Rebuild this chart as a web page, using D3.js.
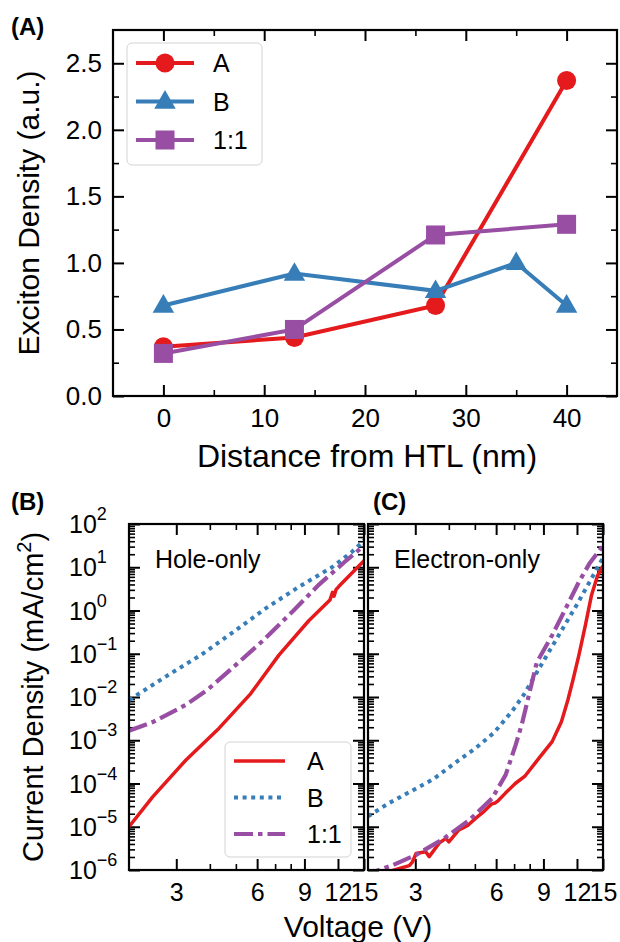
<!DOCTYPE html>
<html lang="en">
<head>
<meta charset="utf-8">
<title>Exciton density and J-V curves</title>
<script src="https://cdn.jsdelivr.net/npm/d3@7"></script>
<style>
    body { margin: 0; background: #fff; }
    svg text { font-family: "Liberation Sans", Arial, Helvetica, sans-serif; fill: #000; }
</style>
</head>
<body>
<div id="chart"></div>
<script>
    // ---------- panel (A): exciton density vs distance ----------
    const distA = [0, 13, 27, 40];
    const densA = [0.37, 0.44, 0.68, 2.37];
    const distB = [0, 13, 27, 35, 40];
    const densB = [0.68, 0.92, 0.79, 1.0, 0.68];
    const distMix = [0, 13, 27, 40];
    const densMix = [0.32, 0.5, 1.21, 1.29];
    const ticksDist = [0, 10, 20, 30, 40];
    const ticksDens = [0, 0.5, 1.0, 1.5, 2.0, 2.5];

    // ---------- panel (B): hole-only J-V (V, mA/cm2) ----------
    const holeV_A = [2.0, 2.45, 3.26, 4.33, 5.68, 7.23, 9.34, 11.2, 11.45, 11.6, 11.8, 12.1, 13.5, 15.0];
    const holeJ_A = [1.0e-5, 4.9e-5, 3.5e-4, 1.9e-3, 1.2e-2, 9.3e-2, 0.58, 1.74, 2.63, 2.14, 3.02, 3.63, 7.24, 14.1];
    const holeV_B = [2.0, 2.75, 3.7, 4.9, 6.5, 8.6, 11.4, 13.5, 15.0];
    const holeJ_B = [8.5e-3, 3.0e-2, 9.3e-2, 0.32, 1.15, 3.55, 10.0, 22.4, 41.7];
    const holeV_Mix = [2.0, 2.45, 3.26, 3.94, 4.8, 6.3, 8.2, 10.2, 12.7, 15.0];
    const holeJ_Mix = [1.66e-3, 2.63e-3, 6.6e-3, 1.51e-2, 4.4e-2, 0.20, 1.0, 3.98, 13.2, 31.6];

    // ---------- panel (C): electron-only J-V ----------
    const elecV_A = [2.2, 2.6, 2.85, 2.93, 3.02, 3.28, 3.38, 3.68, 3.9, 4.0, 4.36, 4.5, 4.7, 5.04, 5.4, 5.79, 5.95, 6.1, 6.5,
                     7.07, 7.7, 8.65, 9.7, 10.5, 11.1, 11.6, 12.2, 12.9, 13.6, 14.3, 15.0];
    const elecJ_A = [7.9e-7, 1.07e-6, 1.26e-6, 1.55e-6, 2.4e-6, 2.63e-6, 2.04e-6, 4.17e-6, 5.37e-6, 4.47e-6, 8.5e-6, 9.3e-6,
                     1.07e-5, 1.58e-5, 2.24e-5, 3.39e-5, 3.55e-5, 3.98e-5, 6.0e-5, 1.0e-4, 1.51e-4, 3.8e-4, 9.3e-4, 2.69e-3,
                     8.5e-3, 2.51e-2, 9.3e-2, 0.457, 2.29, 6.31, 10.7];
    const elecV_B = [2.0, 2.4, 2.85, 3.5, 4.36, 5.04, 5.9, 6.9, 7.6, 8.5, 10.0, 12.0, 15.0];
    const elecJ_B = [1.74e-5, 3.55e-5, 6.3e-5, 1.26e-4, 3.47e-4, 6.6e-4, 1.51e-3, 4.8e-3, 1.12e-2, 3.7e-2, 0.204, 1.38, 16.6];
    const elecV_Mix = [1.9, 2.15, 2.47, 3.02, 3.79, 4.76, 5.79, 6.51, 7.1, 7.5, 7.95, 8.5, 9.7, 10.8, 12.2, 13.4, 15.0];
    const elecJ_Mix = [7.1e-7, 9.5e-7, 1.29e-6, 2.24e-6, 5.1e-6, 1.41e-5, 4.5e-5, 1.58e-4, 7.9e-4, 2.51e-3, 1.12e-2,
                       6.3e-2, 0.269, 1.0, 4.57, 12.6, 31.6];

    const ticksVolt = [3, 6, 9, 12, 15];
    const minorVolt = [4, 5, 7, 8];
    const decades = [-6, -5, -4, -3, -2, -1, 0, 1, 2];
    const seriesNames = ["A", "B", "1:1"];

    const colors = {"A": "#e41a1c", "B": "#377eb8", "1:1": "#984ea3"};
    const zip = (a, b) => a.map((v, i) => [v, b[i]]);

    const svg = d3.select("#chart")
        .append("svg")
            .attr("width", 620)
            .attr("height", 942);

    // inward ticks on one side of a frame
    function tickSide(orient, scale, x0, y0, values, size, fmt, pad, fontSize) {
        const axisFn = {bottom: d3.axisBottom, top: d3.axisTop, left: d3.axisLeft, right: d3.axisRight}[orient];
        const g = svg.append("g")
            .attr("transform", "translate(" + x0 + "," + y0 + ")")
            .call(axisFn(scale).tickValues(values).tickSize(-size).tickPadding(pad || 0)
                .tickFormat(fmt || (() => "")));
        g.select(".domain").remove();
        g.attr("font-family", null).attr("font-size", fontSize || 10);
        g.selectAll("line").attr("stroke", "#000").attr("stroke-width", size > 8 ? 2 : 1.6);
        return g;
    }

    // ================= panel (A) =================
    const fa = {left: 113, right: 617, top: 30, bottom: 396};
    const x = d3.scaleLinear().domain([-5, 45]).range([fa.left, fa.right]);
    const y = d3.scaleLinear().domain([0, 2.75]).range([fa.bottom, fa.top]);

    const minorDist = [5, 15, 25, 35];
    const minorDens = [0.25, 0.75, 1.25, 1.75, 2.25];

    tickSide("bottom", x, 0, fa.bottom, ticksDist, 11, d3.format("d"), 13, 26);
    tickSide("bottom", x, 0, fa.bottom, minorDist, 6);
    tickSide("top", x, 0, fa.top, ticksDist, 11);
    tickSide("top", x, 0, fa.top, minorDist, 6);
    tickSide("left", y, fa.left, 0, ticksDens, 11, d3.format(".1f"), 11, 26);
    tickSide("left", y, fa.left, 0, minorDens, 6);
    tickSide("right", y, fa.right, 0, ticksDens, 11);
    tickSide("right", y, fa.right, 0, minorDens, 6);

    const lineA = d3.line().x(d => x(d[0])).y(d => y(d[1]));
    const seriesA = [
        {name: "A", data: zip(distA, densA), marker: "circle"},
        {name: "B", data: zip(distB, densB), marker: "triangle"},
        {name: "1:1", data: zip(distMix, densMix), marker: "square"}
    ];

    function drawMarker(g, type, cx, cy, color) {
        if (type === "circle") {
            g.append("circle").attr("cx", cx).attr("cy", cy).attr("r", 9.5).attr("fill", color);
        } else if (type === "square") {
            g.append("rect").attr("x", cx - 9.5).attr("y", cy - 9.5).attr("width", 19).attr("height", 19).attr("fill", color);
        } else {
            g.append("path").attr("d", d3.symbol(d3.symbolTriangle2, 330)())
                .attr("transform", "translate(" + cx + "," + (cy + 1) + ")")
                .attr("fill", color);
        }
    }

    seriesA.forEach(s => {
        const g = svg.append("g");
        g.append("path")
            .attr("d", lineA(s.data))
            .attr("fill", "none")
            .attr("stroke", colors[s.name])
            .attr("stroke-width", 4);
        s.data.forEach(d => drawMarker(g, s.marker, x(d[0]), y(d[1]), colors[s.name]));
    });

    svg.append("rect")
        .attr("x", fa.left).attr("y", fa.top)
        .attr("width", fa.right - fa.left).attr("height", fa.bottom - fa.top)
        .attr("fill", "none").attr("stroke", "#000").attr("stroke-width", 2.2);

    // legend (A)
    const legA = svg.append("g");
    legA.append("rect")
        .attr("x", 127).attr("y", 43).attr("width", 135).attr("height", 122).attr("rx", 5)
        .attr("fill", "#fff").attr("fill-opacity", 0.8).attr("stroke", "#d3d3d3");
    seriesA.forEach((s, i) => {
        const ly = 63 + i * 38.5;
        legA.append("line").attr("x1", 136).attr("x2", 194).attr("y1", ly).attr("y2", ly)
            .attr("stroke", colors[s.name]).attr("stroke-width", 4);
        drawMarker(legA, s.marker, 165, ly, colors[s.name]);
        legA.append("text").attr("x", 213).attr("y", ly + 9).attr("font-size", 25).text(s.name);
    });

    svg.append("text")
        .attr("transform", "translate(39," + ((fa.top + fa.bottom) / 2) + ") rotate(-90)")
        .attr("text-anchor", "middle").attr("font-size", 30)
        .text("Exciton Density (a.u.)");
    svg.append("text")
        .attr("x", (fa.left + fa.right) / 2 + 2).attr("y", 467)
        .attr("text-anchor", "middle").attr("font-size", 32)
        .text("Distance from HTL (nm)");
    svg.append("text").attr("x", 11).attr("y", 35).attr("font-size", 24).attr("font-weight", "bold").text("(A)");

    // ================= panels (B) and (C) =================
    const jvPanels = [
        {id: "B", left: 129, label: "(B)", labelX: 11, note: "Hole-only", showY: true,
         series: [zip(holeV_A, holeJ_A), zip(holeV_B, holeJ_B), zip(holeV_Mix, holeJ_Mix)]},
        {id: "C", left: 368, label: "(C)", labelX: 373, note: "Electron-only", showY: false,
         series: [zip(elecV_A, elecJ_A), zip(elecV_B, elecJ_B), zip(elecV_Mix, elecJ_Mix)]}
    ];
    const pTop = 524, pBottom = 870, pWidth = 235;
    const dashes = {"A": null, "B": "4,4.6", "1:1": "19,5,4.5,5"};
    const widths = {"A": 3.5, "B": 4, "1:1": 4.2};

    const majorJ = decades.map(d => Math.pow(10, d));
    const minorJ = [];
    decades.slice(0, -1).forEach(d => {
        for (let k = 2; k <= 9; k++) minorJ.push(k * Math.pow(10, d));
    });

    jvPanels.forEach(p => {
        const right = p.left + pWidth;
        const xv = d3.scaleLog().domain([2, 15]).range([p.left, right]);
        const yj = d3.scaleLog().domain([1e-6, 1e2]).range([pBottom, pTop]);

        tickSide("bottom", xv, 0, pBottom, ticksVolt, 11, d3.format("d"), 13, 25);
        tickSide("bottom", xv, 0, pBottom, minorVolt, 6);
        tickSide("top", xv, 0, pTop, ticksVolt, 11);
        tickSide("top", xv, 0, pTop, minorVolt, 6);
        tickSide("left", yj, p.left, 0, majorJ, 11);
        tickSide("left", yj, p.left, 0, minorJ, 6);
        tickSide("right", yj, right, 0, majorJ, 11);
        tickSide("right", yj, right, 0, minorJ, 6);

        if (p.showY) {
            decades.forEach(d => {
                const t = svg.append("text")
                    .attr("x", 69).attr("y", yj(Math.pow(10, d)) + 9)
                    .attr("font-size", 25);
                t.append("tspan").text("10");
                t.append("tspan").attr("font-size", 18).attr("dy", -13)
                    .text(String(d).replace("-", "\u2212"));
            });
        }

        const clipId = "clip" + p.id;
        svg.append("clipPath").attr("id", clipId)
            .append("rect").attr("x", p.left).attr("y", pTop).attr("width", pWidth).attr("height", pBottom - pTop);

        const line = d3.line().x(d => xv(d[0])).y(d => yj(d[1]));
        const g = svg.append("g").attr("clip-path", "url(#" + clipId + ")");
        // draw order: A, B, 1:1
        p.series.forEach((data, i) => {
            const name = seriesNames[i];
            g.append("path")
                .attr("d", line(data))
                .attr("fill", "none")
                .attr("stroke", colors[name])
                .attr("stroke-width", widths[name])
                .attr("stroke-dasharray", dashes[name])
                .attr("stroke-linejoin", "round");
        });

        svg.append("rect")
            .attr("x", p.left).attr("y", pTop).attr("width", pWidth).attr("height", pBottom - pTop)
            .attr("fill", "none").attr("stroke", "#000").attr("stroke-width", 2.2);

        svg.append("text").attr("x", p.left + 26).attr("y", 568).attr("font-size", 25).text(p.note);
        svg.append("text").attr("x", p.labelX).attr("y", 510).attr("font-size", 24)
            .attr("font-weight", "bold").text(p.label);
    });

    // legend (B)
    const legB = svg.append("g");
    legB.append("rect")
        .attr("x", 225).attr("y", 742).attr("width", 126).attr("height", 115).attr("rx", 5)
        .attr("fill", "#fff").attr("fill-opacity", 0.8).attr("stroke", "#d3d3d3");
    seriesNames.forEach((name, i) => {
        const ly = 761 + i * 36.5;
        legB.append("line").attr("x1", 234).attr("x2", 285).attr("y1", ly).attr("y2", ly)
            .attr("stroke", colors[name]).attr("stroke-width", widths[name])
            .attr("stroke-dasharray", dashes[name]);
        legB.append("text").attr("x", 307).attr("y", ly + 9).attr("font-size", 25).text(name);
    });

    // shared labels
    const yl = svg.append("text")
        .attr("transform", "translate(43," + ((pTop + pBottom) / 2) + ") rotate(-90)")
        .attr("text-anchor", "middle").attr("font-size", 29);
    yl.append("tspan").text("Current Density (mA/cm");
    yl.append("tspan").attr("font-size", 20).attr("dy", -12).text("2");
    yl.append("tspan").attr("dy", 12).text(")");

    svg.append("text")
        .attr("x", 358).attr("y", 937)
        .attr("text-anchor", "middle").attr("font-size", 30)
        .text("Voltage (V)");
</script>
</body>
</html>
